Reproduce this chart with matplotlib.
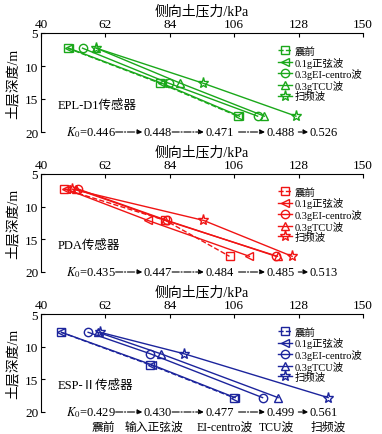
import matplotlib
matplotlib.use("Agg")
import matplotlib.pyplot as plt

plt.rcParams['font.family'] = ['Liberation Serif', 'Noto Sans CJK SC']
plt.rcParams['mathtext.fontset'] = 'stix'

# data (kPa)
labels = ['震前', '0.1g正弦波', '0.3gEI-centro波', '0.3gTCU波', '扫频波']
markers = ['s', '<', 'o', '^', '*']

depth_epl = [7.3, 12.6, 17.6]
epl = [[49.1, 80.6, 107.2],
       [49.5, 81.2, 107.8],
       [54.2, 83.6, 114.0],
       [58.9, 87.6, 116.3],
       [58.9, 95.3, 127.1]]
k0_epl = ['0.446', '0.448', '0.471', '0.488', '0.526']

depth_pda = [7.3, 12.1, 17.6]
pda = [[47.9, 82.5, 104.4],
       [48.5, 76.5, 111.2],
       [52.7, 83.0, 120.3],
       [52.0, 82.5, 120.8],
       [50.5, 95.5, 125.8]]
k0_pda = ['0.435', '0.447', '0.484', '0.485', '0.513']

depth_esp = [[7.8, 12.8, 17.8],
             [7.8, 12.8, 17.8],
             [7.8, 11.1, 17.8],
             [7.8, 11.1, 17.8],
             [7.8, 11.1, 17.8]]
esp = [[46.8, 77.4, 105.8],
       [47.0, 78.0, 106.3],
       [56.1, 77.4, 115.7],
       [59.5, 81.0, 121.0],
       [60.2, 89.0, 138.1]]
k0_esp = ['0.429', '0.430', '0.477', '0.499', '0.561']

wave_names = ['震前', '输入正弦波', 'EI-centro波', 'TCU波', '扫频波']
xticks = [40, 62, 84, 106, 128, 150]

W, H = 382, 435
fig = plt.figure(figsize=(W / 100, H / 100), dpi=100)


def panel(top_px, bot_px, depths, vals, color, name, k0, show_waves=False):
    ax = fig.add_axes([41 / W, 1 - bot_px / H, 322 / W, (bot_px - top_px) / H])
    for i in range(5):
        d = depths[i] if isinstance(depths[0], list) else depths
        ls = '--' if i == 0 else '-'
        ms = 8 if markers[i] == '*' else 6
        ax.plot(vals[i], d, ls=ls, color=color, lw=1.0, marker=markers[i],
                ms=ms, mfc='none', mec=color, mew=1.0, label=labels[i])
    ax.set_xlim(40, 150)
    ax.set_ylim(20, 5)
    ax.set_xticks(xticks)
    ax.set_yticks([5, 10, 15, 20])
    ax.xaxis.tick_top()
    ax.xaxis.set_label_position('top')
    ax.spines['right'].set_visible(False)
    ax.spines['bottom'].set_visible(False)
    ax.tick_params(direction='in', length=3, labelsize=9.5, pad=2)
    ax.set_xlabel('侧向土压力/kPa', fontsize=10, labelpad=3)
    ax.set_ylabel('土层深度/m', fontsize=10, labelpad=4)
    ax.legend(loc='upper left', bbox_to_anchor=(0.72, 0.92), frameon=False,
              fontsize=7.5, handlelength=1.3, handletextpad=0.3,
              labelspacing=0.05, borderpad=0)
    ax.text(45.7, 15.9, name, fontsize=9, va='center')

    # K0 line
    ax.text(48.5, 20, '$K_0$=' + k0[0], fontsize=9, va='center', clip_on=False)
    arrows = [(65.5, 74.6), (84.8, 95.6), (107.5, 116.5), (127.9, 131.3)]
    starts = [75.1, 96.1, 117.1, 131.6]
    for (a, b), s, t in zip(arrows, starts, k0[1:]):
        ax.annotate('', xy=(b, 20), xytext=(a, 20),
                    arrowprops=dict(arrowstyle='-|>', color='black', lw=0.8,
                                    ls='-.', mutation_scale=7, shrinkA=0, shrinkB=0),
                    annotation_clip=False)
        ax.text(s, 20, t, fontsize=9, va='center', clip_on=False)
    if show_waves:
        for x, w in zip([61.2, 78.5, 102.9, 120.5, 138.1], wave_names):
            ax.text(x, 22.3, w, fontsize=8.5, ha='center', va='center', clip_on=False)
    return ax


panel(34, 133, depth_epl, epl, '#1aa81a', 'EPL-D1传感器', k0_epl)
panel(175, 273, depth_pda, pda, '#f01414', 'PDA传感器', k0_pda)
panel(315, 413, depth_esp, esp, '#1c249c', 'ESP-Ⅱ传感器', k0_esp, show_waves=True)

fig.savefig('out.png', dpi=100)
